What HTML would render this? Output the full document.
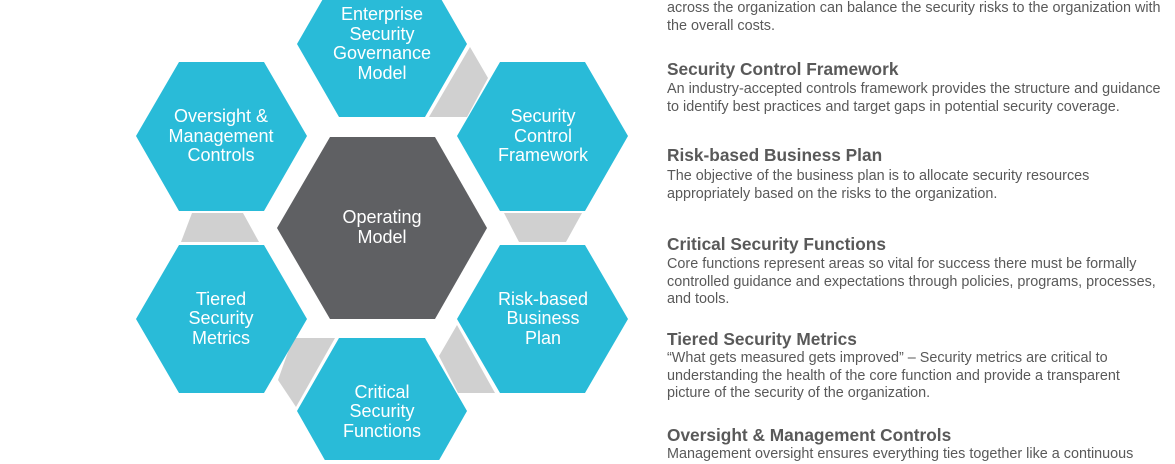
<!DOCTYPE html>
<html><head><meta charset="utf-8"><style>
body{margin:0;width:1175px;height:460px;overflow:hidden;background:#fff;font-family:"Liberation Sans",sans-serif;position:relative}
svg{position:absolute;left:0;top:0}
.h{position:absolute;left:667px;font-weight:bold;font-size:17.3px;color:#595959;white-space:nowrap;line-height:20px}
.b{position:absolute;left:667px;font-size:14.4px;color:#595959;line-height:17.5px;white-space:nowrap}
</style></head><body>
<svg width="1175" height="460" viewBox="0 0 1175 460">
<g fill="#d0d0d0">
<polygon points="470,47 488,78 467,117 429,117"/>
<polygon points="504,213 582,213 566,242 519,242"/>
<polygon points="192,213 243,213 259,242 181,242"/>
<polygon points="457,325 439,356 458,393 495,393"/>
<polygon points="293,338 335,338 296,407 278,380"/>
</g>
<g fill="#29bbd8">
<polygon points="297,44 339,-29 425,-29 467,44 425,117 339,117"/>
<polygon points="136,136 179,62 264,62 307,136 264,211 179,211"/>
<polygon points="457,136 500,62 585,62 628,136 585,211 500,211"/>
<polygon points="136,319 179,245 264,245 307,319 264,393 179,393"/>
<polygon points="457,319 500,245 585,245 628,319 585,393 500,393"/>
<polygon points="297,411 339,338 425,338 467,411 425,485 339,485"/>
</g>
<polygon fill="#5f6063" points="277,228 330,137 435,137 487,228 435,319 330,319"/>
<g fill="#fff" font-family="Liberation Sans, sans-serif" font-size="18" text-anchor="middle">
<text x="382" y="20">Enterprise</text><text x="382" y="40">Security</text><text x="382" y="59">Governance</text><text x="382" y="79">Model</text>
<text x="221" y="122">Oversight &amp;</text><text x="221" y="142">Management</text><text x="221" y="161">Controls</text>
<text x="543" y="122">Security</text><text x="543" y="142">Control</text><text x="543" y="161">Framework</text>
<text x="382" y="223">Operating</text><text x="382" y="243">Model</text>
<text x="221" y="305">Tiered</text><text x="221" y="324">Security</text><text x="221" y="344">Metrics</text>
<text x="543" y="305">Risk-based</text><text x="543" y="324">Business</text><text x="543" y="344">Plan</text>
<text x="382" y="398">Critical</text><text x="382" y="417">Security</text><text x="382" y="437">Functions</text>
</g>
</svg>
<div class="b" style="top:0px">across the organization can balance the security risks to the organization with<br>the overall costs.</div>
<div class="h" style="top:59px">Security Control Framework</div>
<div class="b" style="top:81px">An industry-accepted controls framework provides the structure and guidance<br>to identify best practices and target gaps in potential security coverage.</div>
<div class="h" style="top:145px">Risk-based Business Plan</div>
<div class="b" style="top:168px">The objective of the business plan is to allocate security resources<br>appropriately based on the risks to the organization.</div>
<div class="h" style="top:234px">Critical Security Functions</div>
<div class="b" style="top:256px">Core functions represent areas so vital for success there must be formally<br>controlled guidance and expectations through policies, programs, processes,<br>and tools.</div>
<div class="h" style="top:329px">Tiered Security Metrics</div>
<div class="b" style="top:350px">“What gets measured gets improved” – Security metrics are critical to<br>understanding the health of the core function and provide a transparent<br>picture of the security of the organization.</div>
<div class="h" style="top:425px">Oversight &amp; Management Controls</div>
<div class="b" style="top:446px">Management oversight ensures everything ties together like a continuous</div>
</body></html>
